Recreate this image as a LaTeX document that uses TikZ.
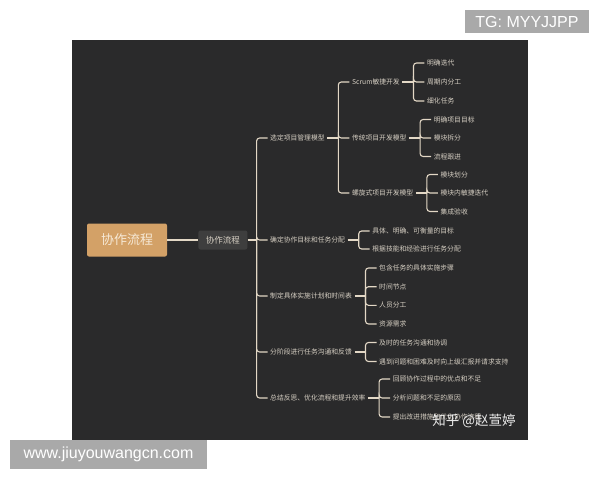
\documentclass[tikz,border=0pt]{standalone}
\usepackage{fontspec}
\setmainfont{Liberation Sans}
\newfontfamily\cjk{Noto Sans CJK SC}
\usepackage{xcolor}
\usetikzlibrary{positioning}

\definecolor{boardbg}{HTML}{2A2A2B}
\definecolor{rootfill}{HTML}{D3A167}
\definecolor{roottext}{HTML}{F6E9D6}
\definecolor{hubfill}{HTML}{3E3E3E}
\definecolor{linkcol}{HTML}{E3D8C6}
\definecolor{labelcol}{HTML}{D6CFC3}
\definecolor{markgray}{HTML}{A9A9A9}

\begin{document}
\begin{tikzpicture}[x=1pt, y=-1pt,
  link/.style={draw=linkcol, line width=1.1pt, rounded corners=3pt},
  topic/.style={font=\cjk\fontsize{6.8}{8}\selectfont, text=labelcol, inner sep=2.5pt, anchor=west},
  rootbox/.style={fill=rootfill, rounded corners=2pt, minimum width=80pt, minimum height=33pt,
    font=\cjk\fontsize{13}{15}\selectfont, text=roottext},
  hubbox/.style={fill=hubfill, rounded corners=2pt, minimum width=49pt, minimum height=19pt,
    font=\cjk\fontsize{8.5}{10}\selectfont, text=labelcol},
  markbox/.style={fill=markgray, text=white, inner sep=0pt, font=\fontsize{16}{18}\selectfont}]

\fill[white] (0,0) rectangle (600,480);
\useasboundingbox (0,0) rectangle (600,480);
\fill[boardbg] (72,40) rectangle (528,440);

\node[rootbox] (root) at (127,240) {协作流程};
\node[hubbox, right=31pt of root] (hub) {协作流程};
\draw[link] (root) -- (hub);
\draw[link] (hub.east) -- ++(9,0) coordinate (trunk);

% first level
\node[topic] (model) at (267.5,138) {选定项目管理模型};
\node[topic] (goal) at (267.5,240) {确定协作目标和任务分配};
\node[topic] (plan) at (267.5,296) {制定具体实施计划和时间表};
\node[topic] (talk) at (267.5,352) {分阶段进行任务沟通和反馈};
\node[topic] (review) at (267.5,398) {总结反思、优化流程和提升效率};

\draw[link] (trunk) |- (model.west);
\draw[link] (trunk) |- (goal.west);
\draw[link] (trunk) |- (plan.west);
\draw[link] (trunk) |- (talk.west);
\draw[link] (trunk) |- (review.west);

% models
\node[topic, right=22pt of model, yshift=56pt] (scrum) {Scrum敏捷开发};
\node[topic, right=22pt of model] (classic) {传统项目开发模型};
\node[topic, right=22pt of model, yshift=-55pt] (spiral) {螺旋式项目开发模型};

\draw[link] (model.east) -- ++(11,0) coordinate (modelfork);
\draw[link] (modelfork) |- (scrum.west);
\draw[link] (modelfork) |- (classic.west);
\draw[link] (modelfork) |- (spiral.west);

\node[topic, right=22pt of scrum, yshift=19pt] (iter) {明确迭代};
\node[topic, right=22pt of scrum] (cycle) {周期内分工};
\node[topic, right=22pt of scrum, yshift=-19pt] (tasks) {细化任务};

\draw[link] (scrum.east) -- ++(11,0) coordinate (scrumfork);
\draw[link] (scrumfork) |- (iter.west);
\draw[link] (scrumfork) |- (cycle.west);
\draw[link] (scrumfork) |- (tasks.west);

\node[topic, right=22pt of classic, yshift=18.5pt] (target) {明确项目目标};
\node[topic, right=22pt of classic] (split) {模块拆分};
\node[topic, right=22pt of classic, yshift=-18.5pt] (follow) {流程跟进};

\draw[link] (classic.east) -- ++(11,0) coordinate (classicfork);
\draw[link] (classicfork) |- (target.west);
\draw[link] (classicfork) |- (split.west);
\draw[link] (classicfork) |- (follow.west);

\node[topic, right=22pt of spiral, yshift=18.5pt] (divide) {模块划分};
\node[topic, right=22pt of spiral] (inner) {模块内敏捷迭代};
\node[topic, right=22pt of spiral, yshift=-18.5pt] (accept) {集成验收};

\draw[link] (spiral.east) -- ++(11,0) coordinate (spiralfork);
\draw[link] (spiralfork) |- (divide.west);
\draw[link] (spiralfork) |- (inner.west);
\draw[link] (spiralfork) |- (accept.west);

% goals
\node[topic, right=22pt of goal, yshift=9pt] (measure) {具体、明确、可衡量的目标};
\node[topic, right=22pt of goal, yshift=-9pt] (assign) {根据技能和经验进行任务分配};

\draw[link] (goal.east) -- ++(11,0) coordinate (goalfork);
\draw[link] (goalfork) |- (measure.west);
\draw[link] (goalfork) |- (assign.west);

% plan
\node[topic, right=22pt of plan, yshift=28pt] (steps) {包含任务的具体实施步骤};
\node[topic, right=22pt of plan, yshift=9.3pt] (dates) {时间节点};
\node[topic, right=22pt of plan, yshift=-9.3pt] (staff) {人员分工};
\node[topic, right=22pt of plan, yshift=-28pt] (needs) {资源需求};

\draw[link] (plan.east) -- ++(11,0) coordinate (planfork);
\draw[link] (planfork) |- (steps.west);
\draw[link] (planfork) |- (dates.west);
\draw[link] (planfork) |- (staff.west);
\draw[link] (planfork) |- (needs.west);

% feedback
\node[topic, right=22pt of talk, yshift=9.5pt] (sync) {及时的任务沟通和协调};
\node[topic, right=22pt of talk, yshift=-9.5pt] (escalate) {遇到问题和困难及时向上级汇报并请求支持};

\draw[link] (talk.east) -- ++(11,0) coordinate (talkfork);
\draw[link] (talkfork) |- (sync.west);
\draw[link] (talkfork) |- (escalate.west);

% review
\node[topic, right=22pt of review, yshift=19pt] (recall) {回顾协作过程中的优点和不足};
\node[topic, right=22pt of review] (causes) {分析问题和不足的原因};
\node[topic, right=22pt of review, yshift=-19pt] (improve) {提出改进措施和优化协作流程};

\draw[link] (review.east) -- ++(11,0) coordinate (reviewfork);
\draw[link] (reviewfork) |- (recall.west);
\draw[link] (reviewfork) |- (causes.west);
\draw[link] (reviewfork) |- (improve.west);

% marks
\node[text=white, opacity=0.9, font=\cjk\fontsize{13.5}{15}\selectfont] (zhihu) at (474,421) {知乎 @赵萱婷};
\node[markbox, minimum width=124pt, minimum height=23pt] (tg) at (527,21.5) {TG: MYYJJPP};
\node[markbox, minimum width=197pt, minimum height=29pt] (site) at (108.5,454.5) {www.jiuyouwangcn.com};
\end{tikzpicture}
\end{document}
